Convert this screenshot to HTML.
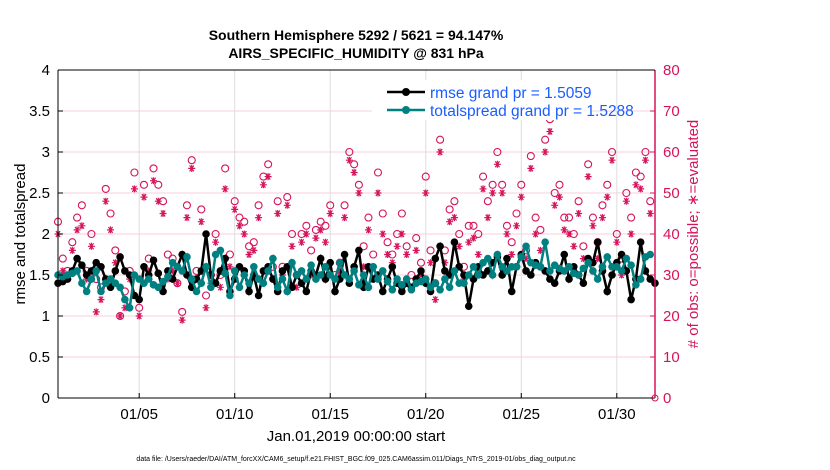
<!DOCTYPE html>
<html><head><meta charset="utf-8">
<style>
body{margin:0;background:#fff;font-family:"Liberation Sans",sans-serif;}
svg{display:block}
</style></head>
<body>
<svg id="chart" width="830" height="470" xmlns="http://www.w3.org/2000/svg">
<text x="356" y="40" text-anchor="middle" font-size="14" font-weight="bold">Southern Hemisphere 5292 / 5621 = 94.147%</text>
<text x="356" y="58" text-anchor="middle" font-size="14" font-weight="bold">AIRS_SPECIFIC_HUMIDITY @ 831 hPa</text>
<g id="grid"></g>
<g id="marks"></g>
<g id="axes"></g>
<text transform="translate(25,234) rotate(-90)" text-anchor="middle" font-size="15">rmse and totalspread</text>
<text transform="translate(698,234) rotate(-90)" text-anchor="middle" font-size="15" fill="#d6145c"># of obs: o=possible; ∗=evaluated</text>
<text x="356" y="441" text-anchor="middle" font-size="15">Jan.01,2019 00:00:00 start</text>
<text x="356" y="461" text-anchor="middle" font-size="7">data file: /Users/raeder/DAI/ATM_forcXX/CAM6_setup/f.e21.FHIST_BGC.f09_025.CAM6assim.011/Diags_NTrS_2019-01/obs_diag_output.nc</text>
<g>
<rect x="372" y="80" width="220" height="40" fill="#fff"/>
<line x1="387" y1="92" x2="425" y2="92" stroke="#000" stroke-width="2.5"/>
<circle cx="406" cy="92" r="4" fill="#000"/>
<text x="430" y="98" font-size="15.5" fill="#1a5cff">rmse grand pr = 1.5059</text>
<line x1="387" y1="110" x2="425" y2="110" stroke="#008080" stroke-width="2.5"/>
<circle cx="406" cy="110" r="4" fill="#008080"/>
<text x="430" y="116" font-size="15.5" fill="#1a5cff">totalspread grand pr = 1.5288</text>
</g>
</svg>
<script>
const rmse=[1.4,1.42,1.45,1.55,1.7,1.62,1.5,1.55,1.65,1.6,1.45,1.35,1.55,1.72,1.55,1.5,1.25,1.2,1.6,1.5,1.68,1.52,1.3,1.55,1.45,1.6,1.75,1.5,1.35,1.45,1.55,2.0,1.5,1.4,1.55,1.7,1.3,1.45,1.6,1.55,1.3,1.5,1.25,1.55,1.6,1.45,1.3,1.55,1.6,1.35,1.5,1.4,1.3,1.55,1.5,1.7,1.45,1.65,1.3,1.45,1.75,1.4,1.6,1.8,1.35,1.6,1.45,1.5,1.3,1.45,1.6,1.4,1.3,1.4,1.35,1.45,1.55,1.4,1.3,1.7,1.85,1.55,1.5,1.9,1.6,1.5,1.12,1.45,1.6,1.5,1.55,1.65,1.72,1.5,1.7,1.3,1.6,1.75,1.55,1.5,1.65,1.6,1.55,1.45,1.4,1.55,1.75,1.45,1.6,1.5,1.4,1.7,1.65,1.9,1.55,1.3,1.5,1.65,1.75,1.55,1.2,1.45,1.9,1.55,1.45,1.4];
const spread=[1.5,1.48,1.5,1.52,1.55,1.4,1.3,1.45,1.55,1.3,1.4,1.45,1.4,1.35,1.2,1.1,1.5,1.45,1.4,1.45,1.38,1.35,1.42,1.48,1.65,1.6,1.55,1.72,1.45,1.3,1.4,1.6,1.35,1.75,1.8,1.52,1.25,1.55,1.35,1.5,1.4,1.6,1.45,1.4,1.55,1.7,1.35,1.45,1.3,1.65,1.5,1.55,1.45,1.62,1.45,1.5,1.6,1.5,1.45,1.65,1.5,1.45,1.55,1.38,1.5,1.35,1.6,1.45,1.55,1.42,1.32,1.45,1.38,1.45,1.32,1.4,1.42,1.45,1.35,1.4,1.32,1.45,1.35,1.55,1.4,1.4,1.5,1.6,1.5,1.65,1.7,1.5,1.75,1.6,1.55,1.6,1.6,1.72,1.85,1.65,1.62,1.6,1.9,1.55,1.62,1.58,1.55,1.6,1.52,1.5,1.58,1.65,1.55,1.45,1.6,1.72,1.6,1.6,1.55,1.7,1.62,1.38,1.45,1.72,1.75];
const possible=[43,34,31,38,44,47,31,40,29,27,51,45,36,20,26,31,55,22,52,34,56,52,48,35,34,28,21,47,58,31,46,25,30,40,30,56,35,48,44,43,37,38,47,54,57,32,48,32,49,40,30,40,42,36,41,43,42,47,30,33,47,60,57,52,37,44,35,55,45,38,35,40,45,37,30,39,33,54,36,28,63,36,46,48,40,32,42,42,40,54,48,52,60,52,42,38,45,52,36,59,44,41,63,68,50,52,44,44,40,48,37,57,44,38,47,52,60,40,34,50,44,55,54,60,48];
const evaluated=[40,31,29,36,41,42,29,37,21,24,48,41,33,20,22,29,51,20,49,31,53,48,45,29,31,28,19,44,56,29,43,22,28,38,27,51,32,46,42,40,35,36,44,52,54,29,45,30,47,37,27,38,40,30,39,41,38,45,26,31,44,58,55,50,32,41,32,50,40,35,33,37,40,35,27,36,30,50,33,24,60,33,43,44,37,29,38,39,35,51,44,50,57,50,40,35,42,49,34,56,40,36,60,65,47,49,41,40,37,45,34,54,42,34,44,49,58,38,30,48,40,52,51,58,45];
const NS='http://www.w3.org/2000/svg';
const L=58,R=655,T=70,B=398;
const day0=0.75,day1=32;
function xs(i){const d=day0+i*0.25;return L+(d-day0)/(day1-day0)*(R-L);}
function xd(d){return L+(d-day0)/(day1-day0)*(R-L);}
function yl(v){return B-(v/4)*(B-T);}
function yr(v){return B-(v/80)*(B-T);}
function mk(tag,attrs,parent){const e=document.createElementNS(NS,tag);for(const k in attrs)e.setAttribute(k,attrs[k]);parent.appendChild(e);return e;}
const grid=document.getElementById('grid'),marks=document.getElementById('marks'),axes=document.getElementById('axes');
const xTicks=['01/05','01/10','01/15','01/20','01/25','01/30'];
const xTickDays=[5,10,15,20,25,30];
xTickDays.forEach((d,k)=>{
  const g=mk('line',{x1:xd(d),x2:xd(d),y1:T,y2:B,stroke:'#dddddd','stroke-width':1},grid);
  
  
  const t=mk('text',{x:xd(d),y:B+21,'text-anchor':'middle','font-size':15},axes);
  t.textContent=xTicks[k];
  
  
  mk('line',{x1:xd(d),x2:xd(d),y1:B,y2:B-5,stroke:'#000'},axes);
});
const rTicks=[0,10,20,30,40,50,60,70,80];
rTicks.forEach(v=>{
  const g=mk('line',{x1:L,x2:R,y1:yr(v),y2:yr(v),stroke:'#f6d0dc','stroke-width':1},grid);
  
  
  const t=mk('text',{x:R+8,y:yr(v)+5,'font-size':15,fill:'#d6145c'},axes);
  t.textContent=v;
  
  
  mk('line',{x1:R,x2:R-5,y1:yr(v),y2:yr(v),stroke:'#d6145c'},axes);
});
const lTicks=['0','0.5','1','1.5','2','2.5','3','3.5','4'];
lTicks.forEach(s=>{
  const v=parseFloat(s);
  const t=mk('text',{x:L-8,y:yl(v)+5,'text-anchor':'end','font-size':15},axes);
  t.textContent=s;
  
  
  mk('line',{x1:L,x2:L+5,y1:yl(v),y2:yl(v),stroke:'#000'},axes);
});
mk('line',{x1:L,x2:L,y1:T,y2:B,stroke:'#000'},axes);
mk('line',{x1:L,x2:R,y1:B,y2:B,stroke:'#000'},axes);
mk('line',{x1:R,x2:R,y1:T,y2:B,stroke:'#d6145c','stroke-width':1.5},axes);
mk('line',{x1:L,x2:R,y1:T,y2:T,stroke:'#000'},axes);
possible.forEach((v,i)=>{
  const c=mk('circle',{cx:xs(i),cy:yr(v),r:3.5,fill:'none',stroke:'#d6145c','stroke-width':1.1},marks);
  
  
});
evaluated.forEach((v,i)=>{
  const x=xs(i),y=yr(v),s=3.5;
  const d=`M${x-s},${y}L${x+s},${y}M${x-s*0.6},${y-s*0.85}L${x+s*0.6},${y+s*0.85}M${x-s*0.6},${y+s*0.85}L${x+s*0.6},${y-s*0.85}M${x},${y-s}L${x},${y+s}`;
  const p=mk('path',{d:d,stroke:'#d6145c','stroke-width':1.2,fill:'none'},marks);
  
  
});
function series(arr,color,name){
  const p=mk('polyline',{points:arr.map((v,i)=>xs(i)+','+yl(v)).join(' '),fill:'none',stroke:color,'stroke-width':2.5},marks);
  
  
  arr.forEach((v,i)=>{
    const c=mk('circle',{cx:xs(i),cy:yl(v),r:3.8,fill:color},marks);
    
    
  });
}
series(rmse,'#000','rmse');
series(spread,'#008080','totalspread');
mk('circle',{cx:R,cy:B,r:3,fill:'none',stroke:'#d6145c'},marks);
</script>
</body></html>
